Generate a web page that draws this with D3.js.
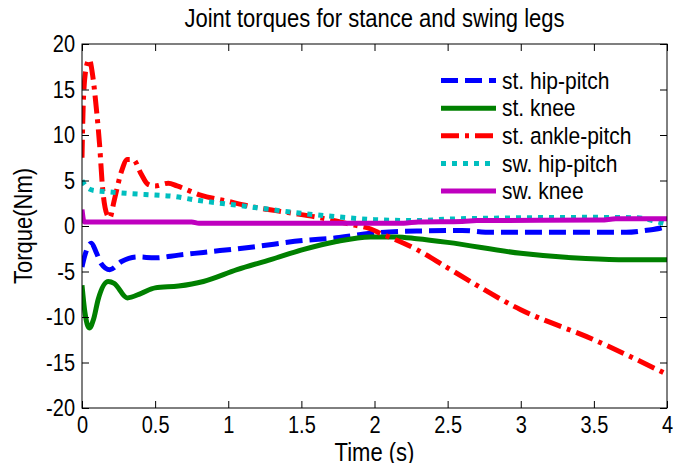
<!DOCTYPE html>
<html>
<head>
<meta charset="utf-8">
<script src="https://cdn.jsdelivr.net/npm/d3@7"></script>
<style>
  body { margin: 0; background: #fff; }
  text {
    font-family: "Liberation Sans", Arial, Helvetica, sans-serif;
    fill: #000;
    transform-box: fill-box;
    transform-origin: center;
    transform: scaleY(1.16);
  }
</style>
</head>
<body>
<svg id="chart" width="673" height="463"></svg>
<script>
// Joint torque histories (time in s, torque in Nm)
const hipT = [0, 0.02, 0.064, 0.1, 0.13, 0.19, 0.27, 0.38, 0.5, 0.66, 0.83, 1.17, 1.51, 1.74, 1.97, 2.29, 2.6, 2.8, 3.72, 3.85, 3.98, 4.0];
const hipV = [-4.5, -3.2, -1.9, -3.0, -4.1, -4.8, -3.9, -3.4, -3.5, -3.2, -2.9, -2.3, -1.6, -1.3, -0.8, -0.55, -0.5, -0.7, -0.7, -0.5, -0.1, 0.1];

const kneeT = [0, 0.02, 0.05, 0.08, 0.11, 0.18, 0.22, 0.31, 0.405, 0.5, 0.66, 0.83, 1.06, 1.29, 1.51, 1.74, 1.97, 2.15, 2.29, 2.5, 3.0, 3.35, 3.67, 4.0];
const kneeV = [-6.5, -9.5, -11.2, -10.2, -8.1, -6.1, -6.3, -7.9, -7.4, -6.8, -6.6, -6.1, -4.8, -3.7, -2.6, -1.7, -1.2, -1.2, -1.4, -1.8, -3.0, -3.5, -3.7, -3.7];

const ankleT = [0, 0.01, 0.03, 0.05, 0.075, 0.1, 0.12, 0.14, 0.17, 0.19, 0.22, 0.27, 0.31, 0.35, 0.405, 0.45, 0.5, 0.59, 0.65, 0.81, 1.0, 1.17, 1.4, 1.63, 1.86, 1.97, 2.04, 2.29, 2.5, 3.0, 3.5, 4.0];
const ankleV = [7.5, 14, 17.5, 18.3, 16.3, 12.6, 9.0, 4.3, 1.3, 0.9, 2.8, 6.0, 7.3, 7.3, 5.7, 4.6, 4.4, 4.7, 4.4, 3.4, 2.7, 2.1, 1.5, 0.9, 0.1, -0.3, -0.8, -2.6, -4.6, -9.2, -12.5, -16.3];

const swHipT = [0, 0.03, 0.08, 0.15, 0.3, 0.5, 0.6, 0.8, 1.0, 1.2, 1.5, 1.75, 2.0, 2.3, 2.5, 3.0, 3.5, 3.8, 3.9, 4.0];
const swHipV = [5.0, 4.3, 3.9, 3.8, 3.6, 3.4, 3.3, 2.8, 2.4, 2.0, 1.4, 1.0, 0.7, 0.6, 0.75, 0.9, 0.95, 0.9, 0.6, 0.2];

const swKneeT = [0, 0.015, 0.75, 0.8, 2.2, 2.3, 2.6, 2.7, 3.55, 3.65, 4.0];
const swKneeV = [1.8, 0.45, 0.45, 0.3, 0.3, 0.45, 0.5, 0.6, 0.65, 0.8, 0.8];

const seriesNames = ["st. hip-pitch", "st. knee", "st. ankle-pitch", "sw. hip-pitch", "sw. knee"];
const xTicks = [0, 0.5, 1, 1.5, 2, 2.5, 3, 3.5, 4];
const yTicks = [-20, -15, -10, -5, 0, 5, 10, 15, 20];

const series = [
  { name: seriesNames[0], t: hipT, v: hipV, color: "#0000ff", dash: "17,7" },
  { name: seriesNames[1], t: kneeT, v: kneeV, color: "#008000", dash: null },
  { name: seriesNames[2], t: ankleT, v: ankleV, color: "#ff0000", dash: "18,6,4,6" },
  { name: seriesNames[3], t: swHipT, v: swHipV, color: "#00bfbf", dash: "5,6" },
  { name: seriesNames[4], t: swKneeT, v: swKneeV, color: "#bf00bf", dash: null }
];

const svg = d3.select("#chart");
const plot = { left: 82, right: 667, top: 44, bottom: 408 };

const x = d3.scaleLinear().domain([0, 4]).range([plot.left, plot.right]);
const y = d3.scaleLinear().domain([-20, 20]).range([plot.bottom, plot.top]);

svg.append("defs").append("clipPath").attr("id", "plot-clip")
  .append("rect")
  .attr("x", plot.left).attr("y", plot.top)
  .attr("width", plot.right - plot.left).attr("height", plot.bottom - plot.top);

// Curves
const line = d3.line()
  .x(d => x(d[0]))
  .y(d => y(d[1]))
  .curve(d3.curveMonotoneX);

const lines = svg.append("g").attr("clip-path", "url(#plot-clip)");
series.forEach(s => {
  lines.append("path")
    .datum(s.t.map((t, i) => [t, s.v[i]]))
    .attr("d", line)
    .attr("fill", "none")
    .attr("stroke", s.color)
    .attr("stroke-width", 5)
    .attr("stroke-dasharray", s.dash)
    .attr("stroke-linejoin", "round");
});

// Axes with inward ticks on all four sides
const fmt = d => String(d);
const tickLen = 7;

const gx = svg.append("g").attr("transform", `translate(0,${plot.bottom})`)
  .call(d3.axisBottom(x).tickValues(xTicks).tickFormat(fmt).tickSizeInner(-tickLen).tickSizeOuter(0).tickPadding(10));
const gxTop = svg.append("g").attr("transform", `translate(0,${plot.top})`)
  .call(d3.axisTop(x).tickValues(xTicks).tickFormat("").tickSizeInner(-tickLen).tickSizeOuter(0));
const gy = svg.append("g").attr("transform", `translate(${plot.left},0)`)
  .call(d3.axisLeft(y).tickValues(yTicks).tickFormat(fmt).tickSizeInner(-tickLen).tickSizeOuter(0).tickPadding(7));
const gyRight = svg.append("g").attr("transform", `translate(${plot.right},0)`)
  .call(d3.axisRight(y).tickValues(yTicks).tickFormat("").tickSizeInner(-tickLen).tickSizeOuter(0));

[gx, gxTop, gy, gyRight].forEach(g => {
  g.select(".domain").remove();
  g.selectAll("line").attr("stroke", "#000").attr("stroke-width", 1);
  g.selectAll("text").attr("font-size", 20).attr("font-family", null);
});

svg.append("rect")
  .attr("x", plot.left).attr("y", plot.top)
  .attr("width", plot.right - plot.left).attr("height", plot.bottom - plot.top)
  .attr("fill", "none").attr("stroke", "#000").attr("stroke-width", 1);

// Title and axis labels
svg.append("text")
  .attr("x", (plot.left + plot.right) / 2).attr("y", 26)
  .attr("text-anchor", "middle").attr("font-size", 22)
  .text("Joint torques for stance and swing legs");

svg.append("text")
  .attr("x", (plot.left + plot.right) / 2).attr("y", 460)
  .attr("text-anchor", "middle").attr("font-size", 22)
  .text("Time (s)");

svg.append("g")
  .attr("transform", `translate(31,${(plot.top + plot.bottom) / 2}) rotate(-90)`)
  .append("text")
  .attr("text-anchor", "middle").attr("font-size", 22)
  .text("Torque(Nm)");

// Legend
const legend = svg.append("g");
const rowY = d3.scaleLinear().domain([0, 4]).range([80.5, 191]);
series.forEach((s, i) => {
  const cy = rowY(i);
  legend.append("line")
    .attr("x1", 441).attr("x2", 496).attr("y1", cy).attr("y2", cy)
    .attr("stroke", s.color).attr("stroke-width", 5)
    .attr("stroke-dasharray", s.dash);
  legend.append("text")
    .attr("x", 502).attr("y", cy + 7)
    .attr("font-size", 21)
    .text(s.name);
});
</script>
</body>
</html>
